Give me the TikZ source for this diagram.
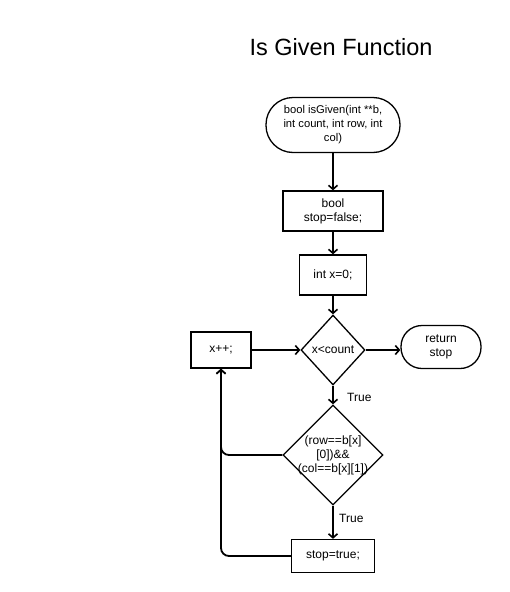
\documentclass[tikz,border=0pt]{standalone}
\usepackage{fontspec}
\setmainfont{Liberation Sans}
\usetikzlibrary{shapes.geometric,arrows.meta}

\begin{document}
\begin{tikzpicture}[x=1pt,y=-1pt,
        box/.style={rectangle, draw, line width=1.3pt, align=center, font=\fontsize{12}{14}\selectfont},
        term/.style={box, rounded corners=21pt},
        cond/.style={diamond, draw, line width=1.3pt, align=center, inner sep=0pt, font=\fontsize{12}{14}\selectfont},
        flow/.style={line width=1.8pt, -{Straight Barb[length=4pt,width=9pt,line width=1.6pt]}},
        yes/.style={font=\fontsize{12}{14}\selectfont}]
        \useasboundingbox (0,0) rectangle (510,592);

        % Title
        \node[font=\fontsize{23.5}{28}\selectfont] (title) at (341,47) {Is Given Function};

        % Define the steps
        \node[term, minimum width=134pt, minimum height=55pt, rounded corners=27pt, font=\fontsize{11.2}{14}\selectfont] (start) at (333,125)
            {bool isGiven(int **b,\\int count, int row, int\\col)};
        \node[box, minimum width=100pt, minimum height=40pt] (init) at (333,211) {bool\\stop=false;};
        \node[box, minimum width=67pt, minimum height=40pt] (setx) at (333,275) {int x=0;};
        \node[cond, minimum width=64pt, minimum height=70pt] (loop) at (333,350) {x<count};
        \node[term, minimum width=80pt, minimum height=43pt] (ret) at (441,347) {return\\stop};
        \node[box, minimum width=60pt, minimum height=36pt] (inc) at (221,350) {x++;};
        \node[cond, text width=80pt, inner sep=-8pt, minimum width=100pt, minimum height=100pt] (match) at (333,455)
            {(row==b[x]\\{}[0])\&\&\\(col==b[x][1])};
        \node[box, minimum width=83pt, minimum height=33pt] (found) at (333,556) {stop=true;};

        % Define the edges
        \draw[flow] (start) -- (init);
        \draw[flow] (init) -- (setx);
        \draw[flow] (setx) -- (loop);
        \draw[flow] (loop.east) -- (ret.west |- loop.east);
        \draw[flow] (inc) -- (loop);
        \draw[flow] (loop) -- node[yes, pos=0.65, right=10pt] {True} (match);
        \draw[flow] (match) -- node[yes, pos=0.38, right=2pt] {True} (found);
        \draw[flow, rounded corners=8pt] (match.west) -| (inc.south);
        \draw[flow, rounded corners=8pt] (found.west) -| (inc.south);

    \end{tikzpicture}
\end{document}
